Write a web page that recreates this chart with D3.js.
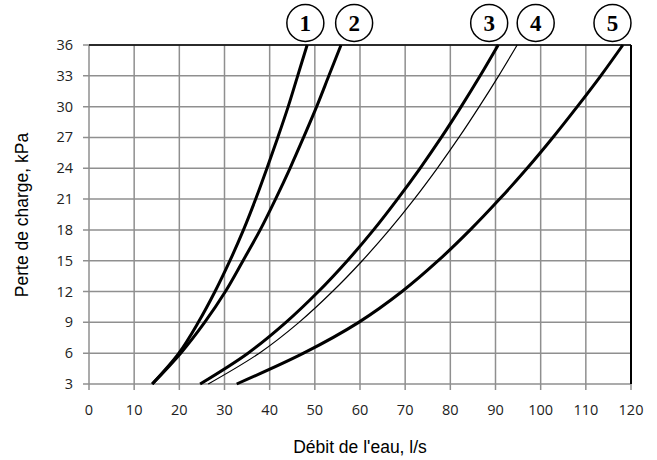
<!DOCTYPE html>
<html>
<head>
<meta charset="utf-8">
<script src="https://cdn.jsdelivr.net/npm/d3@7"></script>
<style>
body{margin:0;background:#fff;}
svg{display:block;}
</style>
</head>
<body>
<div id="graph"></div>
<script>
// pertes de charge (kPa)
var pressure = [3, 6, 9, 12, 15, 18, 21, 24, 27, 30, 33, 36];
// debit (l/s) pour chaque courbe
var flow1 = [14, 19.9, 24.2, 27.9, 31.2, 34.2, 36.9, 39.4, 41.8, 44.1, 46.2, 48.3];
var flow2 = [14, 20.3, 25.6, 30.2, 34.1, 37.9, 41.3, 44.5, 47.5, 50.4, 53.1, 55.8];
var flow3 = [24.6, 35.2, 43.6, 50.8, 57.2, 63.0, 68.3, 73.3, 78.0, 82.4, 86.6, 90.6];
var flow4 = [26.4, 37.7, 46.5, 53.9, 60.5, 66.5, 72.0, 77.1, 81.9, 86.4, 90.7, 94.8];
var flow5 = [32.7, 47.5, 59.7, 69.3, 77.3, 84.4, 90.9, 97.0, 102.7, 108.1, 113.3, 118.2];
var curveLabels = ["1", "2", "3", "4", "5"];
var labelFlow = [47.9, 58.7, 88.6, 98.9, 115.9];
var xTicks = [0,10,20,30,40,50,60,70,80,90,100,110,120];
var yTicks = [3,6,9,12,15,18,21,24,27,30,33,36];

var svg = d3.select("#graph").append("svg").attr("width",657).attr("height",460);

var x = d3.scaleLinear().domain([0,120]).range([89,631]);
var y = d3.scaleLinear().domain([3,36]).range([384,45]);

// grille
svg.append("g").selectAll("line").data(xTicks).enter().append("line")
  .attr("x1",d=>x(d)).attr("x2",d=>x(d)).attr("y1",y(36)).attr("y2",y(3)+6)
  .attr("stroke","#8f8f8f").attr("stroke-width",1.5);
svg.append("g").selectAll("line").data(yTicks).enter().append("line")
  .attr("x1",x(0)-6).attr("x2",x(120)).attr("y1",d=>y(d)).attr("y2",d=>y(d))
  .attr("stroke","#8f8f8f").attr("stroke-width",1.5);

// cadre noir haut et droite
svg.append("line").attr("x1",x(0)).attr("x2",x(120)).attr("y1",y(36)).attr("y2",y(36))
  .attr("stroke","#000").attr("stroke-width",1.5);
svg.append("line").attr("x1",x(120)).attr("x2",x(120)).attr("y1",y(36)).attr("y2",y(3))
  .attr("stroke","#000").attr("stroke-width",2);

// etiquettes des axes
var tickFont = "'Open Sans', 'Noto Sans', sans-serif";
svg.append("g").selectAll("text").data(xTicks).enter().append("text")
  .attr("x",d=>x(d)).attr("y",y(3)+31).attr("text-anchor","middle")
  .style("font-family",tickFont).style("font-size","14.5px").attr("fill","#222")
  .text(d=>d);
svg.append("g").selectAll("text").data(yTicks).enter().append("text")
  .attr("x",x(0)-16).attr("y",d=>y(d)+5).attr("text-anchor","end")
  .style("font-family",tickFont).style("font-size","14.5px").attr("fill","#222")
  .text(d=>d);

svg.append("text").attr("x",360).attr("y",453).attr("text-anchor","middle")
  .style("font-family","'Liberation Sans', Arial, sans-serif").style("font-size","17.5px")
  .text("Débit de l'eau, l/s");
svg.append("text").attr("transform","translate(28,"+215+") rotate(-90)").attr("text-anchor","middle")
  .style("font-family","'Liberation Sans', Arial, sans-serif").style("font-size","17.5px")
  .text("Perte de charge, kPa");

// courbes
var series = [flow1, flow2, flow3, flow4, flow5];
var widths = [3, 3, 3, 1.2, 3];
var line = d3.line().x(d=>x(d[0])).y(d=>y(d[1])).curve(d3.curveCatmullRom);
series.forEach(function(s,i){
  var pts = s.map(function(v,j){ return [v, pressure[j]]; });
  svg.append("path").datum(pts).attr("d",line)
    .attr("fill","none").attr("stroke","#000").attr("stroke-width",widths[i])
    .attr("stroke-linecap","butt");
});

// numeros entoures
var lab = svg.append("g").selectAll("g").data(curveLabels).enter().append("g")
  .attr("transform",(d,i)=>"translate("+x(labelFlow[i])+",23)");
lab.append("ellipse").attr("rx",18.5).attr("ry",18.5)
  .attr("fill","#fff").attr("stroke","#000").attr("stroke-width",1.5);
lab.append("text").attr("y",8).attr("text-anchor","middle")
  .style("font-family","'Liberation Serif', 'DejaVu Serif', serif").style("font-size","23px")
  .style("font-weight","bold").text(d=>d);

// bout du titre coupe
svg.append("text").attr("x",78).attr("y",-3).attr("fill","#2f4fa8")
  .style("font-family","'Liberation Sans', Arial, sans-serif").style("font-size","17px")
  .style("font-weight","bold").text("y");
</script>
</body>
</html>
